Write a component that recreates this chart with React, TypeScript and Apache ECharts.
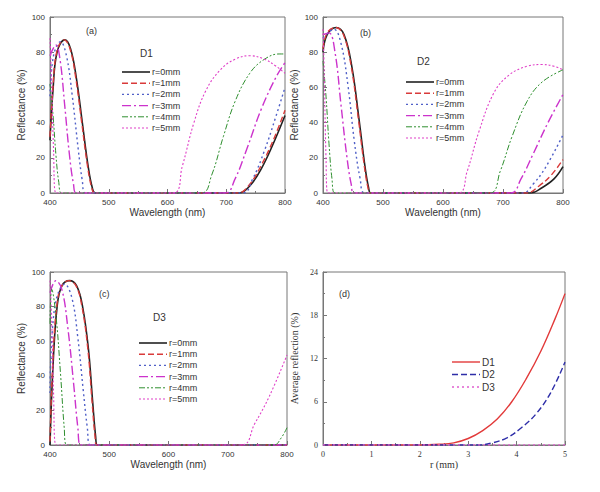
import React, { useRef, useEffect } from "react";
import * as echarts from "echarts";

type Pt = [number, number];

const rLabels = ["r=0mm", "r=1mm", "r=2mm", "r=3mm", "r=4mm", "r=5mm"];
const rColors = ["#222222", "#d93a3a", "#5060c8", "#cc33cc", "#2f8f2f", "#e040c8"];
const rDash: (string | number[])[] = ["solid", [6, 3], [2, 3], [9, 3, 2, 3], [6, 2, 2, 2, 2, 2], [2, 2]];
const rWidth = [1.6, 1.4, 1.4, 1.4, 1, 1.1];

// (a) D1
const d1r0: Pt[] = [[400, 30], [405, 58], [412, 80], [425, 87], [435, 82], [445, 65], [455, 40], [465, 15], [472, 3], [477, 0], [722, 0], [740, 4], [760, 14], [780, 28], [800, 44]];
const d1r1: Pt[] = [[400, 32], [405, 60], [412, 81], [424, 87], [434, 82], [444, 65], [454, 40], [464, 15], [471, 3], [476, 0], [720, 0], [740, 5], [760, 16], [780, 30], [800, 47]];
const d1r2: Pt[] = [[400, 55], [406, 78], [418, 86], [428, 78], [438, 55], [448, 25], [455, 7], [460, 0], [728, 0], [745, 8], [765, 24], [785, 44], [800, 60]];
const d1r3: Pt[] = [[400, 78], [410, 84], [417, 76], [425, 50], [433, 22], [440, 5], [445, 0], [698, 0], [715, 8], [735, 25], [760, 48], [785, 66], [800, 74]];
const d1r4: Pt[] = [[400, 62], [405, 45], [410, 22], [415, 6], [420, 0], [658, 0], [675, 10], [695, 32], [715, 52], [740, 68], [765, 76], [790, 79], [800, 79]];
const d1r5: Pt[] = [[400, 88], [403, 60], [406, 25], [410, 0], [610, 0], [625, 15], [645, 40], [665, 58], [690, 70], [715, 76], [740, 78], [765, 76], [785, 72], [800, 68]];

// (b) D2
const d2r0: Pt[] = [[400, 80], [407, 90], [422, 94], [435, 90], [448, 72], [460, 42], [470, 15], [476, 3], [480, 0], [745, 0], [765, 3], [785, 8], [800, 15]];
const d2r1: Pt[] = [[400, 82], [407, 91], [421, 94], [434, 90], [447, 72], [459, 42], [469, 15], [475, 3], [479, 0], [740, 0], [760, 4], [780, 10], [800, 19]];
const d2r2: Pt[] = [[400, 88], [418, 93], [430, 85], [442, 60], [452, 30], [462, 8], [470, 0], [733, 0], [750, 5], [770, 14], [800, 33]];
const d2r3: Pt[] = [[400, 90], [410, 91], [420, 80], [430, 50], [440, 20], [447, 5], [452, 0], [713, 0], [730, 8], [750, 22], [775, 40], [800, 56]];
const d2r4: Pt[] = [[400, 75], [405, 55], [410, 28], [415, 8], [420, 0], [678, 0], [695, 12], [715, 32], [740, 52], [765, 63], [800, 70]];
const d2r5: Pt[] = [[400, 93], [402, 70], [405, 20], [408, 0], [625, 0], [640, 12], [660, 35], [685, 57], [710, 67], [740, 72], [765, 73], [785, 72], [800, 70]];

// (c) D3
const d3r0: Pt[] = [[400, 0], [405, 45], [412, 80], [420, 92], [433, 95], [445, 92], [455, 80], [465, 55], [472, 25], [477, 5], [480, 0], [800, 0]];
const d3r1: Pt[] = [[400, 2], [405, 50], [412, 82], [420, 92], [432, 95], [444, 92], [454, 80], [464, 55], [471, 25], [476, 5], [479, 0], [800, 0]];
const d3r2: Pt[] = [[400, 30], [408, 80], [425, 93], [437, 85], [447, 62], [456, 32], [463, 10], [468, 0], [800, 0]];
const d3r3: Pt[] = [[400, 88], [410, 95], [420, 90], [430, 68], [440, 35], [447, 10], [452, 0], [800, 0]];
const d3r4: Pt[] = [[400, 70], [403, 90], [410, 75], [418, 40], [424, 10], [428, 0], [778, 0], [790, 4], [800, 10]];
const d3r5: Pt[] = [[400, 95], [403, 70], [406, 30], [410, 0], [724, 0], [745, 12], [770, 28], [800, 52]];

// (d) average reflection vs r
const avgD1: Pt[] = [[0, 0], [2, 0], [2.4, 0.1], [2.7, 0.3], [3, 0.9], [3.3, 2], [3.6, 3.6], [3.9, 6], [4.2, 9.2], [4.5, 13], [4.8, 17.6], [5, 21]];
const avgD2: Pt[] = [[0, 0], [3.2, 0], [3.5, 0.3], [3.8, 1], [4.1, 2.4], [4.4, 4.3], [4.7, 7.2], [5, 11.5]];
const avgD3: Pt[] = [[0, 0], [5, 0]];
const avgNames = ["D1", "D2", "D3"];
const avgColors = ["#e23a3a", "#2e2ea8", "#e060d0"];
const avgDash: (string | number[])[] = ["solid", [6, 3], [2, 3]];

const panels = [
  { data: [d1r0, d1r1, d1r2, d1r3, d1r4, d1r5], name: "D1" },
  { data: [d2r0, d2r1, d2r2, d2r3, d2r4, d2r5], name: "D2" },
  { data: [d3r0, d3r1, d3r2, d3r3, d3r4, d3r5], name: "D3" },
];

const grids = [
  { left: 50, top: 17, width: 235, height: 176 },
  { left: 323, top: 17, width: 240, height: 176 },
  { left: 50, top: 272, width: 237, height: 173 },
  { left: 323, top: 272, width: 242, height: 173 },
];
const legendPos = [[122, 72], [406, 82], [139, 343], [452, 362]];
const tagPos = [[86, 26], [360, 28], [99, 289], [339, 289]];
const namePos = [[140, 48], [417, 56], [153, 312]];

const sans = "Arial, 'Liberation Sans', sans-serif";
const serif = "'Liberation Serif', 'DejaVu Serif', serif";

export default function App() {
  const ref = useRef<HTMLDivElement>(null);

  useEffect(() => {
    if (!ref.current) return;
    const chart = echarts.init(ref.current, null, { renderer: "svg" });

    const axisBase = (gi: number, font: string) => ({
      gridIndex: gi,
      axisLine: { show: true, onZero: false, lineStyle: { color: "#777" } },
      axisTick: { inside: true, length: 4, lineStyle: { color: "#777" } },
      minorTick: { show: true, splitNumber: 2, length: 2, lineStyle: { color: "#777" } },
      splitLine: { show: false },
      axisLabel: { color: "#333", fontSize: 8, fontFamily: font, margin: 5 },
      nameLocation: "middle" as const,
      nameTextStyle: { color: "#333", fontSize: 10, fontFamily: font },
    });

    const xAxis: any[] = [];
    const yAxis: any[] = [];
    for (let i = 0; i < 3; i++) {
      xAxis.push({ ...axisBase(i, sans), type: "value", min: 400, max: 800, interval: 100, name: "Wavelength (nm)", nameGap: 14 });
      yAxis.push({ ...axisBase(i, sans), type: "value", min: 0, max: 100, interval: 20, name: "Reflectance (%)", nameGap: 24 });
    }
    xAxis.push({ ...axisBase(3, serif), type: "value", min: 0, max: 5, interval: 1, name: "r (mm)", nameGap: 14 });
    yAxis.push({ ...axisBase(3, serif), type: "value", min: 0, max: 24, interval: 6, name: "Average reflection (%)", nameGap: 24 });

    const series: any[] = [];
    panels.forEach((p, gi) => {
      p.data.forEach((d, k) => {
        series.push({
          type: "line", name: rLabels[k], xAxisIndex: gi, yAxisIndex: gi, data: d,
          smooth: 0.4, showSymbol: false, symbol: "none",
          lineStyle: { color: rColors[k], type: rDash[k], width: rWidth[k] },
        });
      });
    });
    [avgD1, avgD2, avgD3].forEach((d, k) => {
      series.push({
        type: "line", name: avgNames[k], xAxisIndex: 3, yAxisIndex: 3, data: d,
        smooth: 0.4, symbol: "none",
        lineStyle: { color: avgColors[k], type: avgDash[k], width: 1.4 },
      });
    });

    // hand-drawn legends (one per panel)
    const graphic: any[] = [];
    const addLegend = (pos: number[], labels: string[], colors: string[], dashes: (string | number[])[], widths: number[], gap: number, fs: number) => {
      labels.forEach((lab, k) => {
        const y = pos[1] + k * gap;
        graphic.push({
          type: "line", shape: { x1: pos[0], y1: y, x2: pos[0] + 28, y2: y },
          style: { stroke: colors[k], lineWidth: widths[k], lineDash: dashes[k] === "solid" ? null : dashes[k] },
        });
        graphic.push({
          type: "text", x: pos[0] + 30, y, style: { text: lab, fontSize: fs, fill: "#333", fontFamily: sans, verticalAlign: "middle" },
        });
      });
    };
    for (let i = 0; i < 3; i++) addLegend(legendPos[i], rLabels, rColors, rDash, rWidth, 11.2, 9);
    addLegend(legendPos[3], avgNames, avgColors, avgDash, [1.4, 1.4, 1.4], 12.5, 10);

    ["(a)", "(b)", "(c)", "(d)"].forEach((t, i) =>
      graphic.push({ type: "text", x: tagPos[i][0], y: tagPos[i][1], style: { text: t, fontSize: 9, fill: "#333", fontFamily: sans } })
    );
    panels.forEach((p, i) =>
      graphic.push({ type: "text", x: namePos[i][0], y: namePos[i][1], style: { text: p.name, fontSize: 10, fill: "#333", fontFamily: sans } })
    );

    chart.setOption({
      animation: false,
      backgroundColor: "#fff",
      grid: grids.map((g) => ({ ...g, show: true, borderColor: "#777", borderWidth: 1 })),
      xAxis, yAxis, series, graphic,
    });
    return () => chart.dispose();
  }, []);

  return <div ref={ref} style={{ position: "fixed", left: 0, top: 0, width: 600, height: 492 }} />;
}
